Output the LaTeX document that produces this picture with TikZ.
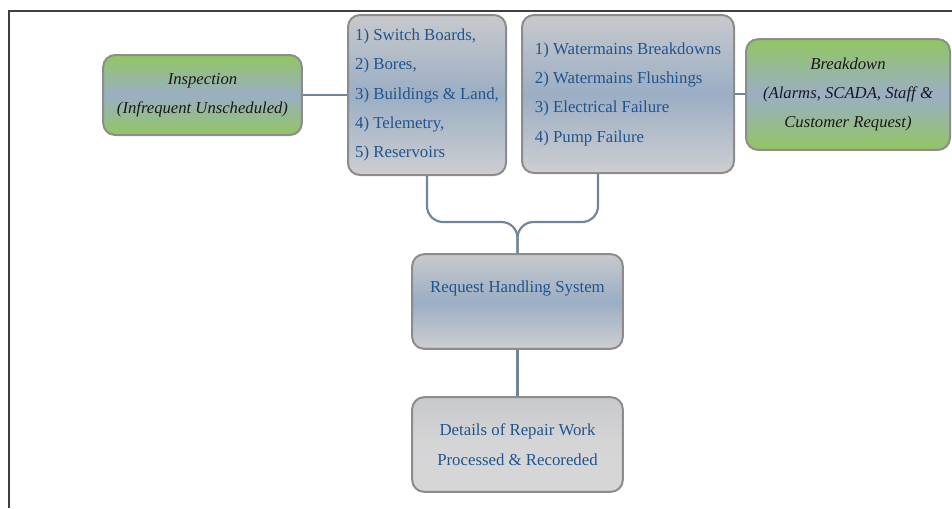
\documentclass[tikz,border=0pt]{standalone}
\usepackage{fontspec}
\setmainfont{Liberation Serif}
\definecolor{txtblue}{RGB}{32,84,142}
\definecolor{txtdark}{RGB}{25,25,25}
\definecolor{edge}{RGB}{140,140,140}
\definecolor{wire}{RGB}{113,133,154}
\definecolor{boxgray}{RGB}{200,201,204}
\definecolor{boxblue}{RGB}{155,174,196}
\definecolor{boxgreen}{RGB}{146,198,98}
\definecolor{lightgray}{RGB}{214,214,215}
\tikzset{
  box/.style={draw=edge,line width=1.5pt,rounded corners=9pt,inner sep=0pt,
    top color=boxgray,bottom color=boxgray!90!white,middle color=boxblue,text=txtblue},
  greenbox/.style={box,top color=boxgreen,bottom color=boxgreen,middle color=boxblue,
    text=txtdark,font=\fontsize{12.5}{22}\selectfont\itshape},
  plainbox/.style={box,top color=boxgray,bottom color=lightgray,middle color=lightgray!95!boxgray},
  wire/.style={draw=wire,line width=1.6pt}
}
\begin{document}
\begin{tikzpicture}[x=0.75pt,y=-0.75pt,font=\fontsize{12.6}{22}\selectfont]
  \clip (0,0) rectangle (952,508);
  \draw[line width=1pt,black!75] (9,508) -- (9,11) -- (952,11);

  \node[greenbox,minimum width=149pt,minimum height=60pt,align=center] (insp) at (202.5,95)
    {Inspection\\(Infrequent Unscheduled)};
  \node[box,minimum width=118.5pt,minimum height=120pt,align=left] (assets) at (427,95)
    {1) Switch Boards,\\2) Bores,\\3) Buildings \& Land,\\4) Telemetry,\\5) Reservoirs};
  \node[box,minimum width=159pt,minimum height=118.5pt,align=left] (fail) at (628,94)
    {1) Watermains Breakdowns\\2) Watermains Flushings\\3) Electrical Failure\\4) Pump Failure};
  \node[greenbox,minimum width=153pt,minimum height=83pt,align=center] (brk) at (848,94.5)
    {Breakdown\\(Alarms, SCADA, Staff \&\\Customer Request)};
  \node[box,minimum width=158pt,minimum height=71pt,align=center] (req) at (517.5,301.5)
    {Request Handling System\\\mbox{}};
  \node[plainbox,minimum width=158pt,minimum height=71pt,align=center] (det) at (517.5,444.5)
    {Details of Repair Work\\Processed \& Recoreded};

  \coordinate (join) at (req.north |- 0,222);
  \draw[wire] (insp.east) -- (insp.east -| assets.west);
  \draw[wire] (fail.east) -- (fail.east -| brk.west);
  \draw[wire,rounded corners=12pt] (assets.south) |- (join) -- (req.north);
  \draw[wire,rounded corners=12pt] ([xshift=-22.5pt]fail.south) |- (join) -- (req.north);
  \draw[wire] (req.south) -- (det.north);
\end{tikzpicture}
\end{document}
